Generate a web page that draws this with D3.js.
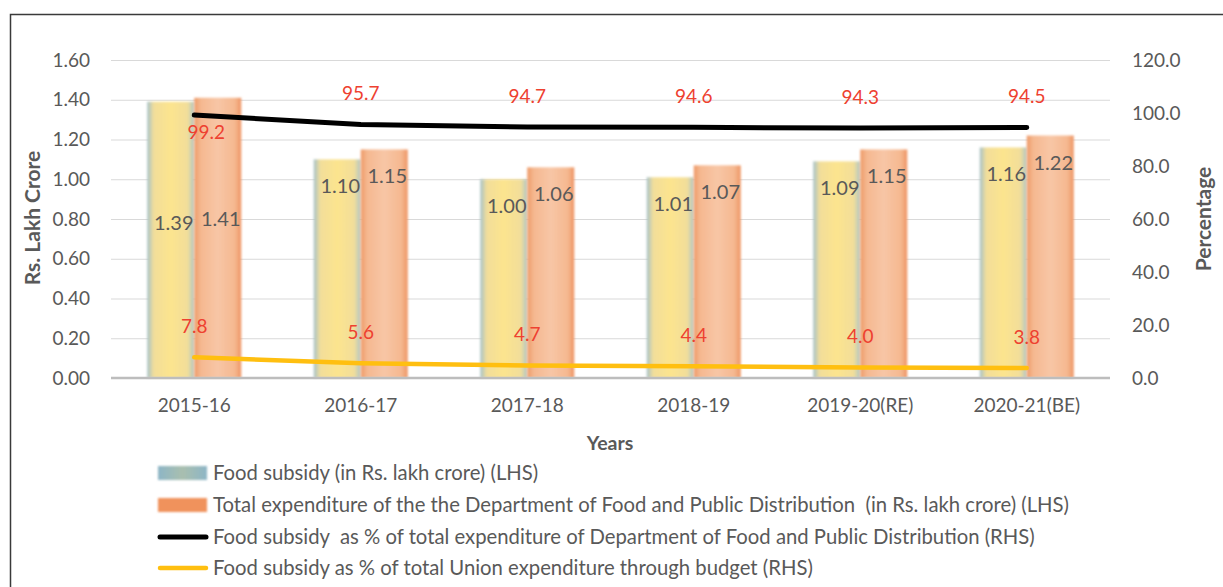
<!DOCTYPE html>
<html>
<head>
<meta charset="utf-8">
<script src="https://cdn.jsdelivr.net/npm/d3@7/dist/d3.min.js"></script>
<style>
  html, body { margin: 0; padding: 0; background: #fff; }
  svg { display: block; font-family: Lato, "Open Sans", sans-serif; }
</style>
</head>
<body>
<svg id="chart" width="1223" height="587"></svg>
<script>
// Years on the category axis
const years = ["2015-16", "2016-17", "2017-18", "2018-19", "2019-20(RE)", "2020-21(BE)"];
// Rs. lakh crore (left axis)
const foodSubsidy = [1.39, 1.10, 1.00, 1.01, 1.09, 1.16];
const totalExpenditure = [1.41, 1.15, 1.06, 1.07, 1.15, 1.22];
// Percentages (right axis)
const subsidyShareOfDept = [99.2, 95.7, 94.7, 94.6, 94.3, 94.5];
const subsidyShareOfUnion = [7.8, 5.6, 4.7, 4.4, 4.0, 3.8];
// Axis ticks
const leftTicks = [0, 0.2, 0.4, 0.6, 0.8, 1.0, 1.2, 1.4, 1.6];
const rightTicks = [0, 20, 40, 60, 80, 100, 120];
// Legend entries
const legendLabels = [
  "Food subsidy (in Rs. lakh crore) (LHS)",
  "Total expenditure of the the Department of Food and Public Distribution  (in Rs. lakh crore) (LHS)",
  "Food subsidy  as % of total expenditure of Department of Food and Public Distribution (RHS)",
  "Food subsidy as % of total Union expenditure through budget (RHS)"
];

const svg = d3.select("#chart");
const plot = { left: 111, right: 1110, top: 60, bottom: 378 };
const textGrey = "#595959";
const redLabel = "#EE4130";
const numSize = 19;      // tick and percentage labels
const barLabelSize = 20; // bar value labels
const legendSize = 20.3;
const titleSize = 21;

// Outer frame
svg.append("rect")
  .attr("x", 10.5).attr("y", 14.5)
  .attr("width", 1240).attr("height", 620)
  .attr("fill", "none").attr("stroke", "#3a3a3a").attr("stroke-width", 1.5);

// Gradients and softening filter for the bars
const defs = svg.append("defs");
const gY = defs.append("linearGradient").attr("id", "gradSubsidy").attr("x1", 0).attr("x2", 1).attr("y1", 0).attr("y2", 0);
[["0%", "#A6C2C8"], ["14%", "#F2DE9A"], ["50%", "#FCE48E"], ["86%", "#F2DE9A"], ["100%", "#AFC6C4"]]
  .forEach(([o, c]) => gY.append("stop").attr("offset", o).attr("stop-color", c));
const gO = defs.append("linearGradient").attr("id", "gradExpenditure").attr("x1", 0).attr("x2", 1).attr("y1", 0).attr("y2", 0);
[["0%", "#EE9A68"], ["14%", "#F5B890"], ["50%", "#F8C6A6"], ["86%", "#F5B890"], ["100%", "#EE9564"]]
  .forEach(([o, c]) => gO.append("stop").attr("offset", o).attr("stop-color", c));
const gL = defs.append("linearGradient").attr("id", "gradLegendSubsidy").attr("x1", 0).attr("x2", 1).attr("y1", 0).attr("y2", 0);
[["0%", "#8DB5C6"], ["50%", "#A9BFAF"], ["100%", "#8DB5C6"]]
  .forEach(([o, c]) => gL.append("stop").attr("offset", o).attr("stop-color", c));
defs.append("filter").attr("id", "soft").attr("x", "-10%").attr("y", "-10%").attr("width", "120%").attr("height", "120%")
  .append("feGaussianBlur").attr("stdDeviation", 0.9);

// Scales
const x = d3.scaleBand().domain(years).range([plot.left, plot.right])
  .paddingInner(0.435).paddingOuter(0.2175);
const series = ["subsidy", "expenditure"];
const x1 = d3.scaleBand().domain(series).range([0, x.bandwidth()]).padding(0);
const yL = d3.scaleLinear().domain([0, 1.6]).range([plot.bottom, plot.top]);
const yR = d3.scaleLinear().domain([0, 120]).range([plot.bottom, plot.top]);

// Left axis with gridlines
const leftAxis = svg.append("g")
  .attr("transform", `translate(${plot.left},0)`)
  .call(d3.axisLeft(yL).tickValues(leftTicks).tickFormat(d3.format(".2f"))
    .tickSize(-(plot.right - plot.left)).tickPadding(21));
leftAxis.select(".domain").remove();
leftAxis.selectAll(".tick line").attr("stroke", "#D9D9D9").attr("stroke-width", 1.2);
leftAxis.selectAll(".tick text").attr("fill", textGrey).style("font-size", numSize + "px").style("font-family", "Lato");

// Right axis labels
const rightAxis = svg.append("g")
  .attr("transform", `translate(${plot.right},0)`)
  .call(d3.axisRight(yR).tickValues(rightTicks).tickFormat(d3.format(".1f")).tickSize(0).tickPadding(22));
rightAxis.select(".domain").remove();
rightAxis.selectAll(".tick text").attr("fill", textGrey).style("font-size", numSize + "px").style("font-family", "Lato");

// Bars
const barData = years.map((yr, i) => ({ yr, i, values: [
  { key: "subsidy", v: foodSubsidy[i] },
  { key: "expenditure", v: totalExpenditure[i] }
] }));
const groups = svg.append("g").selectAll("g").data(barData).join("g")
  .attr("transform", d => `translate(${x(d.yr)},0)`);
groups.selectAll("rect").data(d => d.values).join("rect")
  .attr("x", d => x1(d.key))
  .attr("y", d => yL(d.v))
  .attr("width", x1.bandwidth())
  .attr("height", d => yL(0) - yL(d.v))
  .attr("fill", d => d.key === "subsidy" ? "url(#gradSubsidy)" : "url(#gradExpenditure)")
  .attr("filter", "url(#soft)");

// Category axis
const bottomAxis = svg.append("g")
  .attr("transform", `translate(0,${plot.bottom})`)
  .call(d3.axisBottom(x).tickSize(0).tickPadding(21));
bottomAxis.select(".domain").attr("stroke", "#BDBDBD").attr("stroke-width", 2.5)
  .attr("d", `M${plot.left},0H${plot.right}`);
bottomAxis.selectAll(".tick text").attr("fill", textGrey).style("font-size", numSize + "px").style("font-family", "Lato");

// Bar value labels: inside end, first group sits lower in the bars
const insideOffset = 27, firstGroupOffset = 121;
groups.selectAll("text.val").data(d => d.values.map(v => ({ ...v, i: d.i }))).join("text")
  .attr("class", "val")
  .attr("x", d => x1(d.key) + x1.bandwidth() / 2 + 3)
  .attr("y", d => yL(d.v) + (d.i === 0 ? firstGroupOffset : insideOffset))
  .attr("dy", "0.35em")
  .attr("text-anchor", "middle")
  .attr("fill", textGrey)
  .style("font-size", barLabelSize + "px")
  .text(d => d3.format(".2f")(d.v));

// Percentage lines
const cx = yr => x(yr) + x.bandwidth() / 2;
const line = d3.line().x((d, i) => cx(years[i])).y(d => yR(d));
svg.append("path").datum(subsidyShareOfUnion).attr("d", line)
  .attr("fill", "none").attr("stroke", "#FFBF10").attr("stroke-width", 4.5)
  .attr("stroke-linecap", "round").attr("stroke-linejoin", "round");
svg.append("path").datum(subsidyShareOfDept).attr("d", line)
  .attr("fill", "none").attr("stroke", "#000").attr("stroke-width", 5)
  .attr("stroke-linecap", "round").attr("stroke-linejoin", "round");

// Percentage labels
svg.append("g").selectAll("text").data(subsidyShareOfDept).join("text")
  .attr("x", (d, i) => cx(years[i]) + (i === 0 ? 12 : 0))
  .attr("y", (d, i) => yR(d) + (i === 0 ? 17 : -31))
  .attr("dy", "0.35em").attr("text-anchor", "middle")
  .attr("fill", redLabel).style("font-size", numSize + "px")
  .text(d => d3.format(".1f")(d));
svg.append("g").selectAll("text").data(subsidyShareOfUnion).join("text")
  .attr("x", (d, i) => cx(years[i]))
  .attr("y", d => yR(d) - 31)
  .attr("dy", "0.35em").attr("text-anchor", "middle")
  .attr("fill", redLabel).style("font-size", numSize + "px")
  .text(d => d3.format(".1f")(d));

// Axis titles
svg.append("text").attr("transform", "translate(40,218) rotate(-90)")
  .attr("text-anchor", "middle").attr("fill", textGrey)
  .style("font-size", titleSize + "px").style("font-weight", "bold").text("Rs. Lakh Crore");
svg.append("text").attr("transform", "translate(1211,219) rotate(-90)")
  .attr("text-anchor", "middle").attr("fill", textGrey)
  .style("font-size", titleSize + "px").style("font-weight", "bold").text("Percentage");
svg.append("text").attr("x", 610).attr("y", 443).attr("dy", "0.35em")
  .attr("text-anchor", "middle").attr("fill", textGrey)
  .style("font-size", "19.5px").style("font-weight", "bold").text("Years");

// Legend
const legendX = 158, legendY = [473, 505, 537, 568];
const legend = svg.append("g");
legend.append("rect").attr("x", legendX).attr("y", legendY[0] - 7).attr("width", 49).attr("height", 14)
  .attr("fill", "url(#gradLegendSubsidy)").attr("filter", "url(#soft)");
legend.append("rect").attr("x", legendX).attr("y", legendY[1] - 7).attr("width", 49).attr("height", 14)
  .attr("fill", "#F0925C").attr("filter", "url(#soft)");
legend.append("line").attr("x1", legendX + 2).attr("x2", legendX + 48)
  .attr("y1", legendY[2]).attr("y2", legendY[2])
  .attr("stroke", "#000").attr("stroke-width", 5).attr("stroke-linecap", "round");
legend.append("line").attr("x1", legendX + 2).attr("x2", legendX + 48)
  .attr("y1", legendY[3]).attr("y2", legendY[3])
  .attr("stroke", "#FFBF10").attr("stroke-width", 4.5).attr("stroke-linecap", "round");
legend.selectAll("text").data(legendLabels).join("text")
  .attr("x", 213).attr("y", (d, i) => legendY[i]).attr("dy", "0.35em")
  .attr("fill", textGrey).style("font-size", legendSize + "px")
  .style("white-space", "pre").attr("xml:space", "preserve")
  .text(d => d);
</script>
</body>
</html>
